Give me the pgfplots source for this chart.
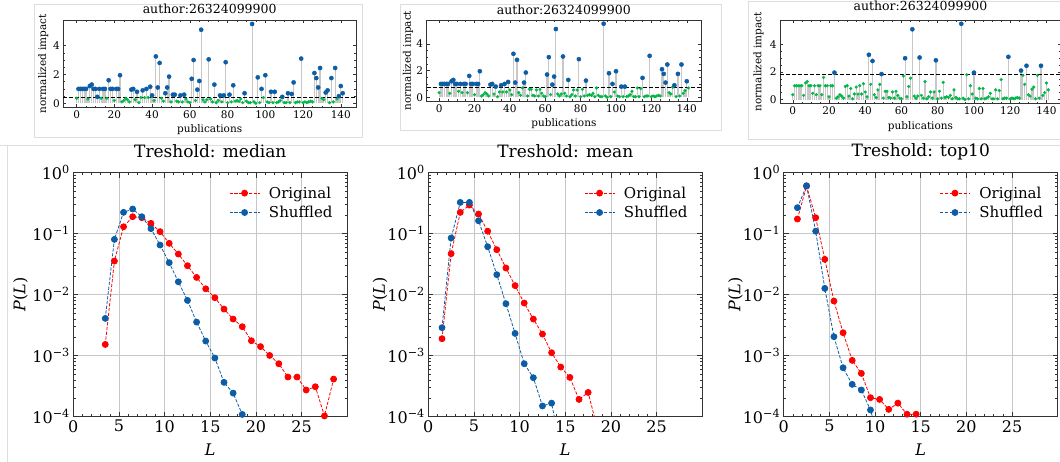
\documentclass[border=0pt]{standalone}
\usepackage{pgfplots}
\pgfplotsset{compat=1.18}
\usepackage{pgfplotstable}
\usepackage{fontspec}
\setmainfont{DejaVu Serif}
\definecolor{sblue}{HTML}{0C5DA5}
\definecolor{sgreen}{HTML}{00B945}
\definecolor{sred}{HTML}{FF0000}
\definecolor{stemc}{HTML}{C8C8C8}
\definecolor{framec}{HTML}{DDDDDD}

\pgfplotstableread{
x y
0 0.35
1 1.0
2 1.0
3 1.0
4 1.0
5 1.0
6 0.3
7 1.2
8 1.3
9 1.0
10 1.0
11 0.45
12 1.0
13 0.35
14 1.0
15 1.0
16 0.35
17 1.6
18 1.0
19 1.0
20 0.2
21 1.0
22 1.0
23 1.95
24 0.1
25 0.2
26 0.35
27 0.25
28 0.1
29 0.95
30 1.0
31 0.25
32 0.8
33 0.05
34 0.4
35 0.9
36 0.4
37 1.0
38 0.4
39 1.15
40 0.55
41 0.2
42 3.25
43 1.1
44 2.8
45 0.35
46 0.15
47 0.7
48 1.1
49 1.85
50 0.1
51 0.6
52 0.6
53 0.15
54 0.1
55 0.55
56 0.1
57 0.6
58 0.3
59 0.1
60 0.05
61 1.7
62 3.0
63 0.2
64 0.95
65 1.55
66 5.1
67 0.25
68 0.1
69 0.25
70 3.05
71 0.3
72 0.1
73 1.3
74 0.05
75 0.2
76 0.55
77 0.1
78 0.55
79 2.85
80 0.05
81 0.6
82 0.1
83 1.25
84 0.15
85 0.2
86 0.15
87 0.3
88 0.05
89 0.7
90 0.15
91 0.05
92 0.05
93 5.5
94 0.1
95 0.0
96 1.8
97 0.05
98 1.0
99 0.4
100 1.95
101 0.1
102 0.05
103 0.8
104 0.05
105 0.8
106 0.05
107 0.1
108 0.2
109 0.45
110 0.05
111 0.05
112 0.7
113 0.05
114 0.65
115 1.45
116 0.05
117 0.1
118 0.1
119 3.1
120 0.05
121 0.1
122 0.05
123 0.1
124 0.15
125 0.1
126 2.1
127 1.75
128 1.1
129 2.45
130 0.35
131 0.25
132 0.75
133 0.9
134 0.05
135 1.75
136 0.1
137 2.45
138 0.3
139 0.5
140 1.2
141 0.7
}\impact

\newcommand{\topplots}[4]{%
  \addplot[ycomb, stemc, line width=1.2pt, mark=none] table {\impact};
  \addplot[only marks, mark=*, mark size=1.4pt, sgreen, restrict y to domain=-1:#1] table {\impact};
  \addplot[only marks, mark=*, mark size=2.1pt, sblue, restrict y to domain=#1:10] table {\impact};
  \addplot[black, line width=1pt, dash pattern=on 4pt off 2pt] coordinates {(-7.05,#1) (148.05,#1)};
  \node[font=\fontsize{12.5}{15}\selectfont, anchor=center] at (axis description cs:0.5,#2) {author:26324099900};
  \node[font=\fontsize{10.5}{12}\selectfont, anchor=center] at (axis description cs:0.5,#3) {publications};
  \node[font=\fontsize{10.5}{12}\selectfont, anchor=center, rotate=90] at (axis description cs:#4,0.5) {normalized impact};
}
\newcommand{\topopts}{}

\begin{document}
\begin{tikzpicture}
% screenshot frames
\draw[framec, line width=0.8pt] (34pt,-4pt) rectangle (362.7pt,-137pt);
\draw[framec, line width=0.8pt] (400pt,-4.3pt) rectangle (721.7pt,-130pt);
\draw[framec, line width=0.8pt] (748pt,-1pt) rectangle (1070pt,-139pt);
\draw[framec, line width=0.8pt] (-5pt,-145pt) -- (1070pt,-145pt);
\draw[framec, line width=0.8pt] (7.3pt,-145pt) -- (7.3pt,-470pt);

% top charts
\begin{axis}[at={(63.3pt,-20pt)}, anchor=north west, width=292.7pt, height=87.3pt,
  scale only axis, clip=false, xmin=-7.05, xmax=148.05, ymin=-0.275, ymax=5.775,
  xtick={0,20,...,140}, ytick={0,2,4}, minor x tick num=3, minor y tick num=3,
  tick align=inside, major tick length=3pt, minor tick length=1.6pt,
  tick style={black!80, line width=0.5pt},
  axis line style={black!80, line width=0.6pt},
  xticklabel={\fontsize{10.5}{12}\selectfont\pgfmathprintnumber[assume math mode=true]{\tick}},
  yticklabel={\fontsize{10.5}{12}\selectfont\pgfmathprintnumber[assume math mode=true]{\tick}}]
\topplots{0.43}{1.123}{-0.26}{-0.069}
\end{axis}

\begin{axis}[at={(426.7pt,-20pt)}, anchor=north west, width=274.3pt, height=81pt,
  scale only axis, clip=false, xmin=-7.05, xmax=148.05, ymin=-0.275, ymax=5.775,
  xtick={0,20,...,140}, ytick={0,2,4}, minor x tick num=3, minor y tick num=3,
  tick align=inside, major tick length=3pt, minor tick length=1.6pt,
  tick style={black!80, line width=0.5pt},
  axis line style={black!80, line width=0.6pt},
  xticklabel={\fontsize{10.5}{12}\selectfont\pgfmathprintnumber[assume math mode=true]{\tick}},
  yticklabel={\fontsize{10.5}{12}\selectfont\pgfmathprintnumber[assume math mode=true]{\tick}}]
\topplots{0.77}{1.123}{-0.275}{-0.068}
\end{axis}

\begin{axis}[at={(780pt,-20pt)}, anchor=north west, width=281pt, height=83.3pt,
  scale only axis, clip=false, xmin=-7.05, xmax=148.05, ymin=-0.275, ymax=5.775,
  xtick={0,20,...,140}, ytick={0,2,4}, minor x tick num=3, minor y tick num=3,
  tick align=inside, major tick length=3pt, minor tick length=1.6pt,
  tick style={black!80, line width=0.5pt},
  axis line style={black!80, line width=0.6pt},
  xticklabel={\fontsize{10.5}{12}\selectfont\pgfmathprintnumber[assume math mode=true]{\tick}},
  yticklabel={\fontsize{10.5}{12}\selectfont\pgfmathprintnumber[assume math mode=true]{\tick}}]
\topplots{1.83}{1.168}{-0.28}{-0.077}
\end{axis}

% bottom: median
\begin{axis}[at={(73.3pt,-172.7pt)}, anchor=north west,
  ymode=log, scale only axis, width=274pt, height=244pt,
  xmin=0, xmax=30, ymin=1e-4, ymax=1,
  xtick={0,5,...,25}, minor x tick num=4,
  ytick={1e-4,1e-3,1e-2,1e-1,1},
  yticklabels={10\textsuperscript{−4},10\textsuperscript{−3},10\textsuperscript{−2},10\textsuperscript{−1},10\textsuperscript{0}},
  minor ytick={2e-4,3e-4,4e-4,5e-4,6e-4,7e-4,8e-4,9e-4,2e-3,3e-3,4e-3,5e-3,6e-3,7e-3,8e-3,9e-3,2e-2,3e-2,4e-2,5e-2,6e-2,7e-2,8e-2,9e-2,0.2,0.3,0.4,0.5,0.6,0.7,0.8,0.9},
  grid=major, major grid style={draw=black!22, line width=0.9pt},
  tick align=inside, major tick length=5pt, minor tick length=2.5pt,
  tick style={black!80, line width=0.6pt},
  axis line style={black!80, line width=0.8pt},
  tick label style={font=\fontsize{16}{19}\selectfont},
  label style={font=\fontsize{16}{19}\selectfont},
  title style={font=\fontsize{17}{20}\selectfont, anchor=center, at={(axis description cs:0.5,1.063)}},
  xlabel={\textit{L}}, ylabel={\textit{P}(\textit{L})},
  xlabel style={at={(axis description cs:0.5,-0.1365)}, anchor=center},
  ylabel style={at={(axis description cs:-0.193,0.5)}, anchor=center},
  legend style={draw=none, fill=none, at={(0.965,0.96)}, anchor=north east, font=\fontsize{15}{18}\selectfont, row sep=2.5pt, /tikz/every odd column/.append style={column sep=7pt}},
  legend cell align=left,
  legend image code/.code={\draw[mark repeat=2,mark phase=2,#1] plot coordinates {(0pt,0pt) (15pt,0pt) (30pt,0pt)};},
  title={Treshold: median},
  /pgf/number format/assume math mode=true]
\addplot[sred, line width=0.8pt, dash pattern=on 3.2pt off 1.6pt, mark=*, mark size=3pt, mark options={solid}] coordinates {(3.5,1.53e-3) (4.5,0.0356) (5.5,0.130) (6.5,0.19) (7.5,0.183) (8.5,0.148) (9.5,0.108) (10.5,0.0695) (11.5,0.0464) (12.5,0.0299) (13.5,0.0192) (14.5,0.0125) (15.5,0.00893) (16.5,0.00582) (17.5,0.00399) (18.5,0.00299) (19.5,0.00176) (20.5,0.00141) (21.5,0.00101) (22.5,7.39e-4) (23.5,4.47e-4) (24.5,4.47e-4) (25.5,2.74e-4) (26.5,3.10e-4) (27.5,1.03e-4) (28.5,4.14e-4)};
\addlegendentry{Original}
\addplot[sblue, line width=0.8pt, dash pattern=on 3.2pt off 1.6pt, mark=*, mark size=3pt, mark options={solid}] coordinates {(3.5,4.09e-3) (4.5,0.0807) (5.5,0.224) (6.5,0.254) (7.5,0.19) (8.5,0.121) (9.5,0.0652) (10.5,0.0335) (11.5,0.0163) (12.5,0.00807) (13.5,0.00356) (14.5,0.00174) (15.5,9.16e-4) (16.5,3.66e-4) (17.5,2.44e-4) (18.5,1.09e-4)};
\addlegendentry{Shuffled}
\end{axis}

% bottom: mean
\begin{axis}[at={(428.3pt,-172.7pt)}, anchor=north west,
  ymode=log, scale only axis, width=274pt, height=244pt,
  xmin=0, xmax=30, ymin=1e-4, ymax=1,
  xtick={0,5,...,25}, minor x tick num=4,
  ytick={1e-4,1e-3,1e-2,1e-1,1},
  yticklabels={10\textsuperscript{−4},10\textsuperscript{−3},10\textsuperscript{−2},10\textsuperscript{−1},10\textsuperscript{0}},
  minor ytick={2e-4,3e-4,4e-4,5e-4,6e-4,7e-4,8e-4,9e-4,2e-3,3e-3,4e-3,5e-3,6e-3,7e-3,8e-3,9e-3,2e-2,3e-2,4e-2,5e-2,6e-2,7e-2,8e-2,9e-2,0.2,0.3,0.4,0.5,0.6,0.7,0.8,0.9},
  grid=major, major grid style={draw=black!22, line width=0.9pt},
  tick align=inside, major tick length=5pt, minor tick length=2.5pt,
  tick style={black!80, line width=0.6pt},
  axis line style={black!80, line width=0.8pt},
  tick label style={font=\fontsize{16}{19}\selectfont},
  label style={font=\fontsize{16}{19}\selectfont},
  title style={font=\fontsize{17}{20}\selectfont, anchor=center, at={(axis description cs:0.5,1.063)}},
  xlabel={\textit{L}}, ylabel={\textit{P}(\textit{L})},
  xlabel style={at={(axis description cs:0.5,-0.1365)}, anchor=center},
  ylabel style={at={(axis description cs:-0.176,0.5)}, anchor=center},
  legend style={draw=none, fill=none, at={(0.965,0.96)}, anchor=north east, font=\fontsize{15}{18}\selectfont, row sep=2.5pt, /tikz/every odd column/.append style={column sep=7pt}},
  legend cell align=left,
  legend image code/.code={\draw[mark repeat=2,mark phase=2,#1] plot coordinates {(0pt,0pt) (15pt,0pt) (30pt,0pt)};},
  title={Treshold: mean},
  /pgf/number format/assume math mode=true]
\addplot[sred, line width=0.8pt, dash pattern=on 3.2pt off 1.6pt, mark=*, mark size=3pt, mark options={solid}] coordinates {(1.5,1.9e-3) (2.5,0.047) (3.5,0.224) (4.5,0.295) (5.5,0.21) (6.5,0.11) (7.5,0.0547) (8.5,0.0274) (9.5,0.0141) (10.5,0.0073) (11.5,0.00399) (12.5,0.00226) (13.5,0.00112) (14.5,6.52e-4) (15.5,4.41e-4) (16.5,1.92e-4) (17.5,2.5e-4) (18.5,6.5e-5)};
\addlegendentry{Original}
\addplot[sblue, line width=0.8pt, dash pattern=on 3.2pt off 1.6pt, mark=*, mark size=3pt, mark options={solid}] coordinates {(1.5,2.88e-3) (2.5,0.085) (3.5,0.326) (4.5,0.326) (5.5,0.163) (6.5,0.0612) (7.5,0.0213) (8.5,0.00712) (9.5,0.00232) (10.5,7.39e-4) (11.5,4.36e-4) (12.5,1.5e-4) (13.5,1.67e-4) (14.5,3e-5)};
\addlegendentry{Shuffled}
\end{axis}

% bottom: top10
\begin{axis}[at={(783.7pt,-172.7pt)}, anchor=north west,
  ymode=log, scale only axis, width=274pt, height=244pt,
  xmin=0, xmax=30, ymin=1e-4, ymax=1,
  xtick={0,5,...,25}, minor x tick num=4,
  ytick={1e-4,1e-3,1e-2,1e-1,1},
  yticklabels={10\textsuperscript{−4},10\textsuperscript{−3},10\textsuperscript{−2},10\textsuperscript{−1},10\textsuperscript{0}},
  minor ytick={2e-4,3e-4,4e-4,5e-4,6e-4,7e-4,8e-4,9e-4,2e-3,3e-3,4e-3,5e-3,6e-3,7e-3,8e-3,9e-3,2e-2,3e-2,4e-2,5e-2,6e-2,7e-2,8e-2,9e-2,0.2,0.3,0.4,0.5,0.6,0.7,0.8,0.9},
  grid=major, major grid style={draw=black!22, line width=0.9pt},
  tick align=inside, major tick length=5pt, minor tick length=2.5pt,
  tick style={black!80, line width=0.6pt},
  axis line style={black!80, line width=0.8pt},
  tick label style={font=\fontsize{16}{19}\selectfont},
  label style={font=\fontsize{16}{19}\selectfont},
  title style={font=\fontsize{17}{20}\selectfont, anchor=center, at={(axis description cs:0.5,1.063)}},
  xlabel={\textit{L}}, ylabel={\textit{P}(\textit{L})},
  xlabel style={at={(axis description cs:0.5,-0.1365)}, anchor=center},
  ylabel style={at={(axis description cs:-0.176,0.5)}, anchor=center},
  legend style={draw=none, fill=none, at={(0.965,0.96)}, anchor=north east, font=\fontsize{15}{18}\selectfont, row sep=2.5pt, /tikz/every odd column/.append style={column sep=7pt}},
  legend cell align=left,
  legend image code/.code={\draw[mark repeat=2,mark phase=2,#1] plot coordinates {(0pt,0pt) (15pt,0pt) (30pt,0pt)};},
  title={Treshold: top10},
  /pgf/number format/assume math mode=true]
\addplot[sred, line width=0.8pt, dash pattern=on 3.2pt off 1.6pt, mark=*, mark size=3pt, mark options={solid}] coordinates {(1.5,0.174) (2.5,0.604) (3.5,0.183) (4.5,0.038) (5.5,0.00787) (6.5,0.00238) (7.5,8.38e-4) (8.5,5.13e-4) (9.5,2.05e-4) (10.5,1.92e-4) (11.5,1.32e-4) (12.5,1.67e-4) (13.5,1.1e-4) (14.5,1.1e-4)};
\addlegendentry{Original}
\addplot[sblue, line width=0.8pt, dash pattern=on 3.2pt off 1.6pt, mark=*, mark size=3pt, mark options={solid}] coordinates {(1.5,0.267) (2.5,0.612) (3.5,0.11) (4.5,0.0127) (5.5,0.00205) (6.5,6.35e-4) (7.5,3.39e-4) (8.5,2.74e-4) (9.5,1.29e-4) (10.5,4e-5)};
\addlegendentry{Shuffled}
\end{axis}
\pgfresetboundingbox
\useasboundingbox (0pt,0pt) rectangle (1060pt,-461pt);
\end{tikzpicture}
\end{document}
